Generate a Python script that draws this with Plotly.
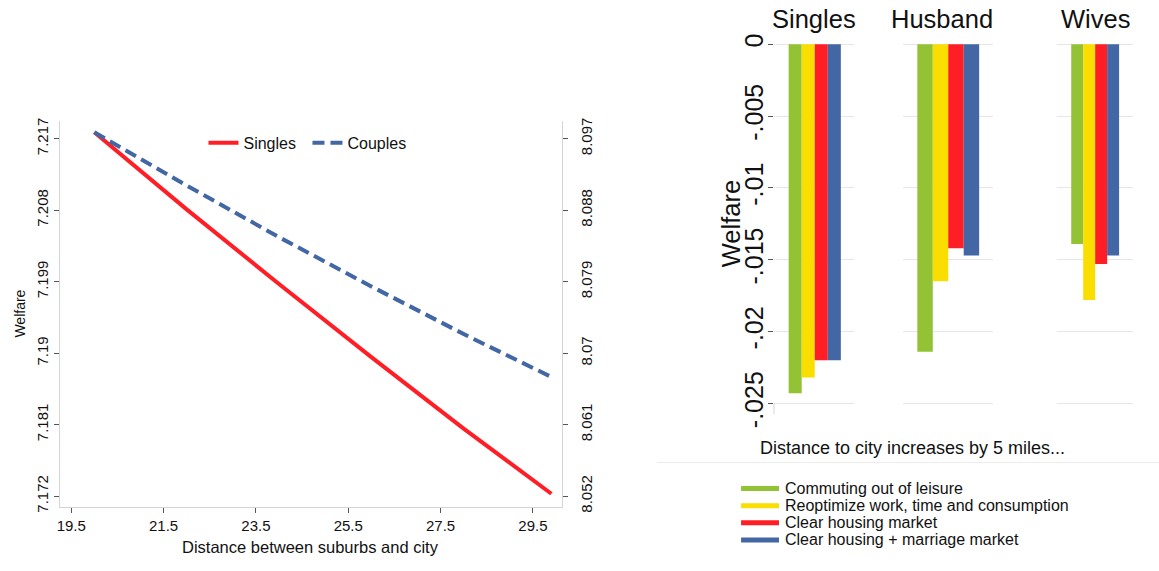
import plotly.graph_objects as go

# ---------------- data ----------------
distance = [20, 22, 24, 26, 28, 29.9]
welfare_singles = [7.2178, 7.2081, 7.1987, 7.1895, 7.1805, 7.1723]
welfare_couples = [8.0978, 8.0911, 8.0846, 8.0784, 8.0724, 8.0670]

x_ticks = [19.5, 21.5, 23.5, 25.5, 27.5, 29.5]
x_ticktext = ["19.5", "21.5", "23.5", "25.5", "27.5", "29.5"]
y_left_ticks = [7.172, 7.181, 7.190, 7.199, 7.208, 7.217]
y_left_text = ["7.172", "7.181", "7.19", "7.199", "7.208", "7.217"]
y_right_ticks = [8.052, 8.061, 8.070, 8.079, 8.088, 8.097]
y_right_text = ["8.052", "8.061", "8.07", "8.079", "8.088", "8.097"]

groups = ["Singles", "Husband", "Wives"]
channels = ["Commuting out of leisure",
            "Reoptimize work, time and consumption",
            "Clear housing market",
            "Clear housing + marriage market"]
commuting = [-0.0243, -0.0214, -0.0139]
reoptimize = [-0.0232, -0.0165, -0.0178]
clear_housing = [-0.0220, -0.0142, -0.0153]
clear_housing_marriage = [-0.0220, -0.0147, -0.0147]

bar_ticks = [0, -0.005, -0.01, -0.015, -0.02, -0.025]
bar_ticktext = ["0", "-.005", "-.01", "-.015", "-.02", "-.025"]

# ---------------- styles ----------------
FONT = "Liberation Sans, Arial, sans-serif"
RED = "#ff1e26"
BLUE = "#4267a4"
GREEN = "#93c234"
YELLOW = "#fade00"
bar_colors = [GREEN, YELLOW, RED, BLUE]
bar_series = [commuting, reoptimize, clear_housing, clear_housing_marriage]

W, H = 1159, 571
Y_OFF, Y_SCALE = 8.0, 0.958   # observed vertical offset/scale of the captured page


def px(x):
    return x / W


def py(y):
    # target pixel row in the picture -> paper coordinate
    return 1 - ((y - Y_OFF) / Y_SCALE) / H


fig = go.Figure()

fig.add_trace(go.Scatter(x=distance, y=welfare_singles, mode="lines", name="Singles",
                         line=dict(color=RED, width=4), xaxis="x", yaxis="y",
                         legend="legend"))
fig.add_trace(go.Scatter(x=distance, y=welfare_couples, mode="lines", name="Couples",
                         line=dict(color=BLUE, width=4, dash="12px,6px"), xaxis="x", yaxis="y2",
                         legend="legend"))

panel_axes = ["x3", "x4", "x5"]
for gi, g in enumerate(groups):
    for ci, ch in enumerate(channels):
        fig.add_trace(go.Bar(x=[ci], y=[bar_series[ci][gi]], width=1,
                             marker=dict(color=bar_colors[ci], line=dict(width=0)),
                             name=ch, showlegend=False,
                             xaxis=panel_axes[gi], yaxis="y3"))

tick_font = dict(family=FONT, size=15, color="#111")
axis_common = dict(showline=True, linecolor="#d4d4d4", linewidth=1, ticks="outside",
                   ticklen=5, tickcolor="#555", tickwidth=1, showgrid=False, zeroline=False)

LEFT_TOP, LEFT_BOTTOM = 121, 505

layout = dict(
    width=W, height=H, autosize=False, margin=dict(l=0, r=0, t=0, b=0, pad=0),
    paper_bgcolor="white", plot_bgcolor="white",
    font=dict(family=FONT, color="#111"),
    barmode="overlay",
    xaxis=dict(domain=[px(57.3), px(560)], range=[19.26, 30.12], anchor="y",
               tickvals=x_ticks, ticktext=x_ticktext, tickfont=tick_font,
               **axis_common),
    yaxis=dict(domain=[py(LEFT_BOTTOM), py(LEFT_TOP)], range=[7.17067, 7.21927], anchor="x",
               tickvals=y_left_ticks, ticktext=y_left_text, tickfont=tick_font,
               tickangle=-90, **axis_common),
    yaxis2=dict(domain=[py(LEFT_BOTTOM), py(LEFT_TOP)], range=[8.05067, 8.09927], anchor="x",
                overlaying="y", side="right",
                tickvals=y_right_ticks, ticktext=y_right_text, tickfont=tick_font,
                tickangle=-90, ticklabelstandoff=6, **axis_common),
    xaxis3=dict(domain=[px(773), px(853)], range=[-1.624, 4.494], anchor="y3", visible=False),
    xaxis4=dict(domain=[px(902), px(993)], range=[-1.448, 4.423], anchor="y3", visible=False),
    xaxis5=dict(domain=[px(1057), px(1133)], range=[-1.667, 4.667], anchor="y3", visible=False),
    yaxis3=dict(domain=[py(413), py(41)], range=[-0.02575, 0.00028], anchor="x3",
                tickvals=bar_ticks, ticktext=bar_ticktext, tickangle=-90,
                tickfont=dict(family=FONT, size=25, color="#111"),
                ticks="outside", ticklen=5, tickcolor="#555", showline=False,
                ticklabelstandoff=-5,
                showgrid=True, gridcolor="#e6e6e6", gridwidth=1, zeroline=False),
    legend=dict(orientation="h", x=px(201), xanchor="left", y=py(143), yanchor="middle",
                font=dict(family=FONT, size=16, color="#111"), bgcolor="rgba(0,0,0,0)",
                itemwidth=30, entrywidth=59, entrywidthmode="pixels"),
    showlegend=True,
)
fig.update_layout(**layout)

annotations = [
    dict(text="Distance between suburbs and city", x=px(308.5), y=py(545),
         font=dict(size=16.5)),
    dict(text="Welfare", x=px(17), y=py(313), textangle=-90, font=dict(size=14)),
    dict(text="Welfare", x=px(730), y=py(224), textangle=-90, font=dict(size=25.5)),
    dict(text="Singles", x=px(813.3), y=py(20), font=dict(size=25.5)),
    dict(text="Husband", x=px(941), y=py(20), font=dict(size=25.5)),
    dict(text="Wives", x=px(1095), y=py(20), font=dict(size=25.5)),
    dict(text="Distance to city increases by 5 miles...", x=px(757), y=py(447),
         xanchor="left", font=dict(size=18)),
]
legend_rows = [487, 504, 521, 538]
shapes = [
    dict(type="line", xref="paper", yref="paper", x0=px(656), x1=1, y0=py(461), y1=py(461),
         line=dict(color="#ececec", width=1)),
    dict(type="line", xref="x3 domain", yref="y3", x0=0, x1=0, y0=-0.025, y1=-0.02575,
         line=dict(color="#d4d4d4", width=1)),
]
for ch, col, ry in zip(channels, bar_colors, legend_rows):
    shapes.append(dict(type="line", xref="paper", yref="paper", x0=px(740), x1=px(778),
                       y0=py(ry), y1=py(ry), line=dict(color=col, width=5)))
    annotations.append(dict(text=ch, x=px(782), y=py(ry), xanchor="left",
                            font=dict(size=16)))

for a in annotations:
    a.setdefault("xref", "paper")
    a.setdefault("yref", "paper")
    a.setdefault("showarrow", False)
    a.setdefault("yanchor", "middle")
    a.setdefault("xanchor", "center")
    a["font"] = dict(family=FONT, color="#111", **a["font"])

fig.update_layout(annotations=annotations, shapes=shapes)

fig.write_html("out.html")
